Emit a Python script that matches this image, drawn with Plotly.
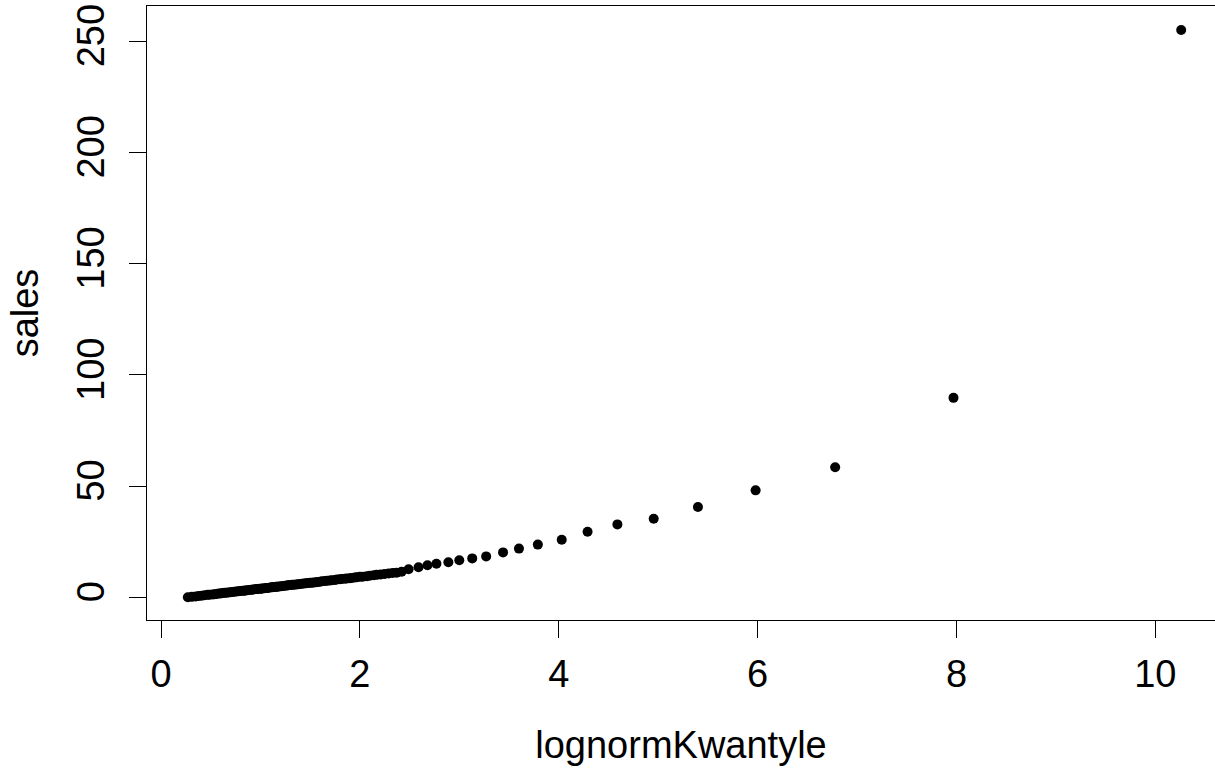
import plotly.graph_objects as go

# lognormal quantiles (x) and sorted sales (y)
lognorm_kwantyle = [
    0.27, 0.31, 0.35, 0.38, 0.41, 0.44, 0.47, 0.49,
    0.52, 0.54, 0.56, 0.58, 0.60, 0.62, 0.64, 0.66, 0.68, 0.70, 0.72, 0.74, 0.76, 0.78, 0.80,
    0.82, 0.84, 0.85, 0.87, 0.89, 0.91, 0.92, 0.94, 0.96, 0.97, 0.99, 1.01, 1.02, 1.04, 1.06,
    1.07, 1.09, 1.11, 1.12, 1.14, 1.16, 1.17, 1.19,
    1.21, 1.23, 1.25, 1.27, 1.28, 1.30, 1.32, 1.34, 1.36, 1.38, 1.40, 1.42, 1.44, 1.46, 1.48,
    1.50, 1.52, 1.54, 1.56, 1.58, 1.60,
    1.62, 1.65, 1.67, 1.70, 1.72, 1.75, 1.77, 1.80, 1.82, 1.85, 1.87, 1.90, 1.92, 1.95, 1.97, 2.00,
    2.03, 2.07, 2.10, 2.14, 2.17, 2.21, 2.25, 2.29, 2.33, 2.37,
    2.42, 2.49, 2.59, 2.68, 2.77, 2.89, 3.00, 3.13, 3.27, 3.44, 3.60, 3.79, 4.03, 4.29,
    4.59, 4.955, 5.40, 5.98, 6.78, 7.97, 10.26,
]
sales = [
    0.0, 0.2, 0.4, 0.6, 0.7, 0.9, 1.1, 1.2,
    1.3, 1.4, 1.5, 1.7, 1.7, 1.9, 2.0, 2.1, 2.2, 2.3, 2.4, 2.5, 2.6, 2.7, 2.8,
    2.9, 3.0, 3.1, 3.2, 3.3, 3.4, 3.4, 3.6, 3.7, 3.7, 3.8, 3.9, 4.0, 4.1, 4.2,
    4.2, 4.3, 4.5, 4.5, 4.6, 4.7, 4.8, 4.9,
    5.0, 5.1, 5.2, 5.3, 5.4, 5.5, 5.6, 5.7, 5.8, 5.9, 6.0, 6.1, 6.2, 6.3, 6.4,
    6.5, 6.6, 6.7, 6.8, 6.9, 7.0,
    7.2, 7.3, 7.4, 7.6, 7.7, 7.8, 8.0, 8.1, 8.2, 8.4, 8.5, 8.6, 8.7, 8.9, 9.0, 9.2,
    9.3, 9.5, 9.7, 9.9, 10.1, 10.3, 10.5, 10.7, 10.9, 11.1,
    11.5, 12.6, 13.5, 14.4, 15.1, 15.8, 16.7, 17.5, 18.4, 20.2, 21.9, 23.7, 25.9, 29.5,
    32.8, 35.3, 40.6, 48.1, 58.5, 89.7, 255.1,
]
x_ticks = [0, 2, 4, 6, 8, 10]
y_ticks = [0, 50, 100, 150, 200, 250]

FONT = "Liberation Sans, Arial, Helvetica, sans-serif"
FS = 38

fig = go.Figure()
fig.add_trace(go.Scatter(
    x=lognorm_kwantyle, y=sales, mode="markers",
    marker=dict(color="black", size=10, line=dict(width=0)),
    showlegend=False,
))

fig.update_layout(
    width=1215, height=769,
    margin=dict(l=147, r=0, t=6, b=149),
    paper_bgcolor="white", plot_bgcolor="white",
    font=dict(family=FONT, size=FS, color="black"),
)
fig.update_xaxes(
    range=[-0.1408, 10.600],
    tickvals=x_ticks, ticktext=[str(v) for v in x_ticks],
    showgrid=False, zeroline=False,
    showline=True, linecolor="black", linewidth=1.3, mirror=True,
    ticks="outside", ticklen=17, tickwidth=1, tickcolor="black",
    ticklabelstandoff=3,
    title=dict(text="lognormKwantyle", standoff=37, font=dict(size=FS)),
)
fig.update_yaxes(
    range=[-10.2, 265.9],
    tickvals=y_ticks, ticktext=[str(v) for v in y_ticks],
    tickangle=-90,
    showgrid=False, zeroline=False,
    showline=True, linecolor="black", linewidth=1.3, mirror=False,
    ticks="outside", ticklen=17, tickwidth=1, tickcolor="black",
    ticklabelstandoff=10,
    title=dict(text="sales", standoff=19, font=dict(size=FS)),
)

fig.write_html("out.html")
